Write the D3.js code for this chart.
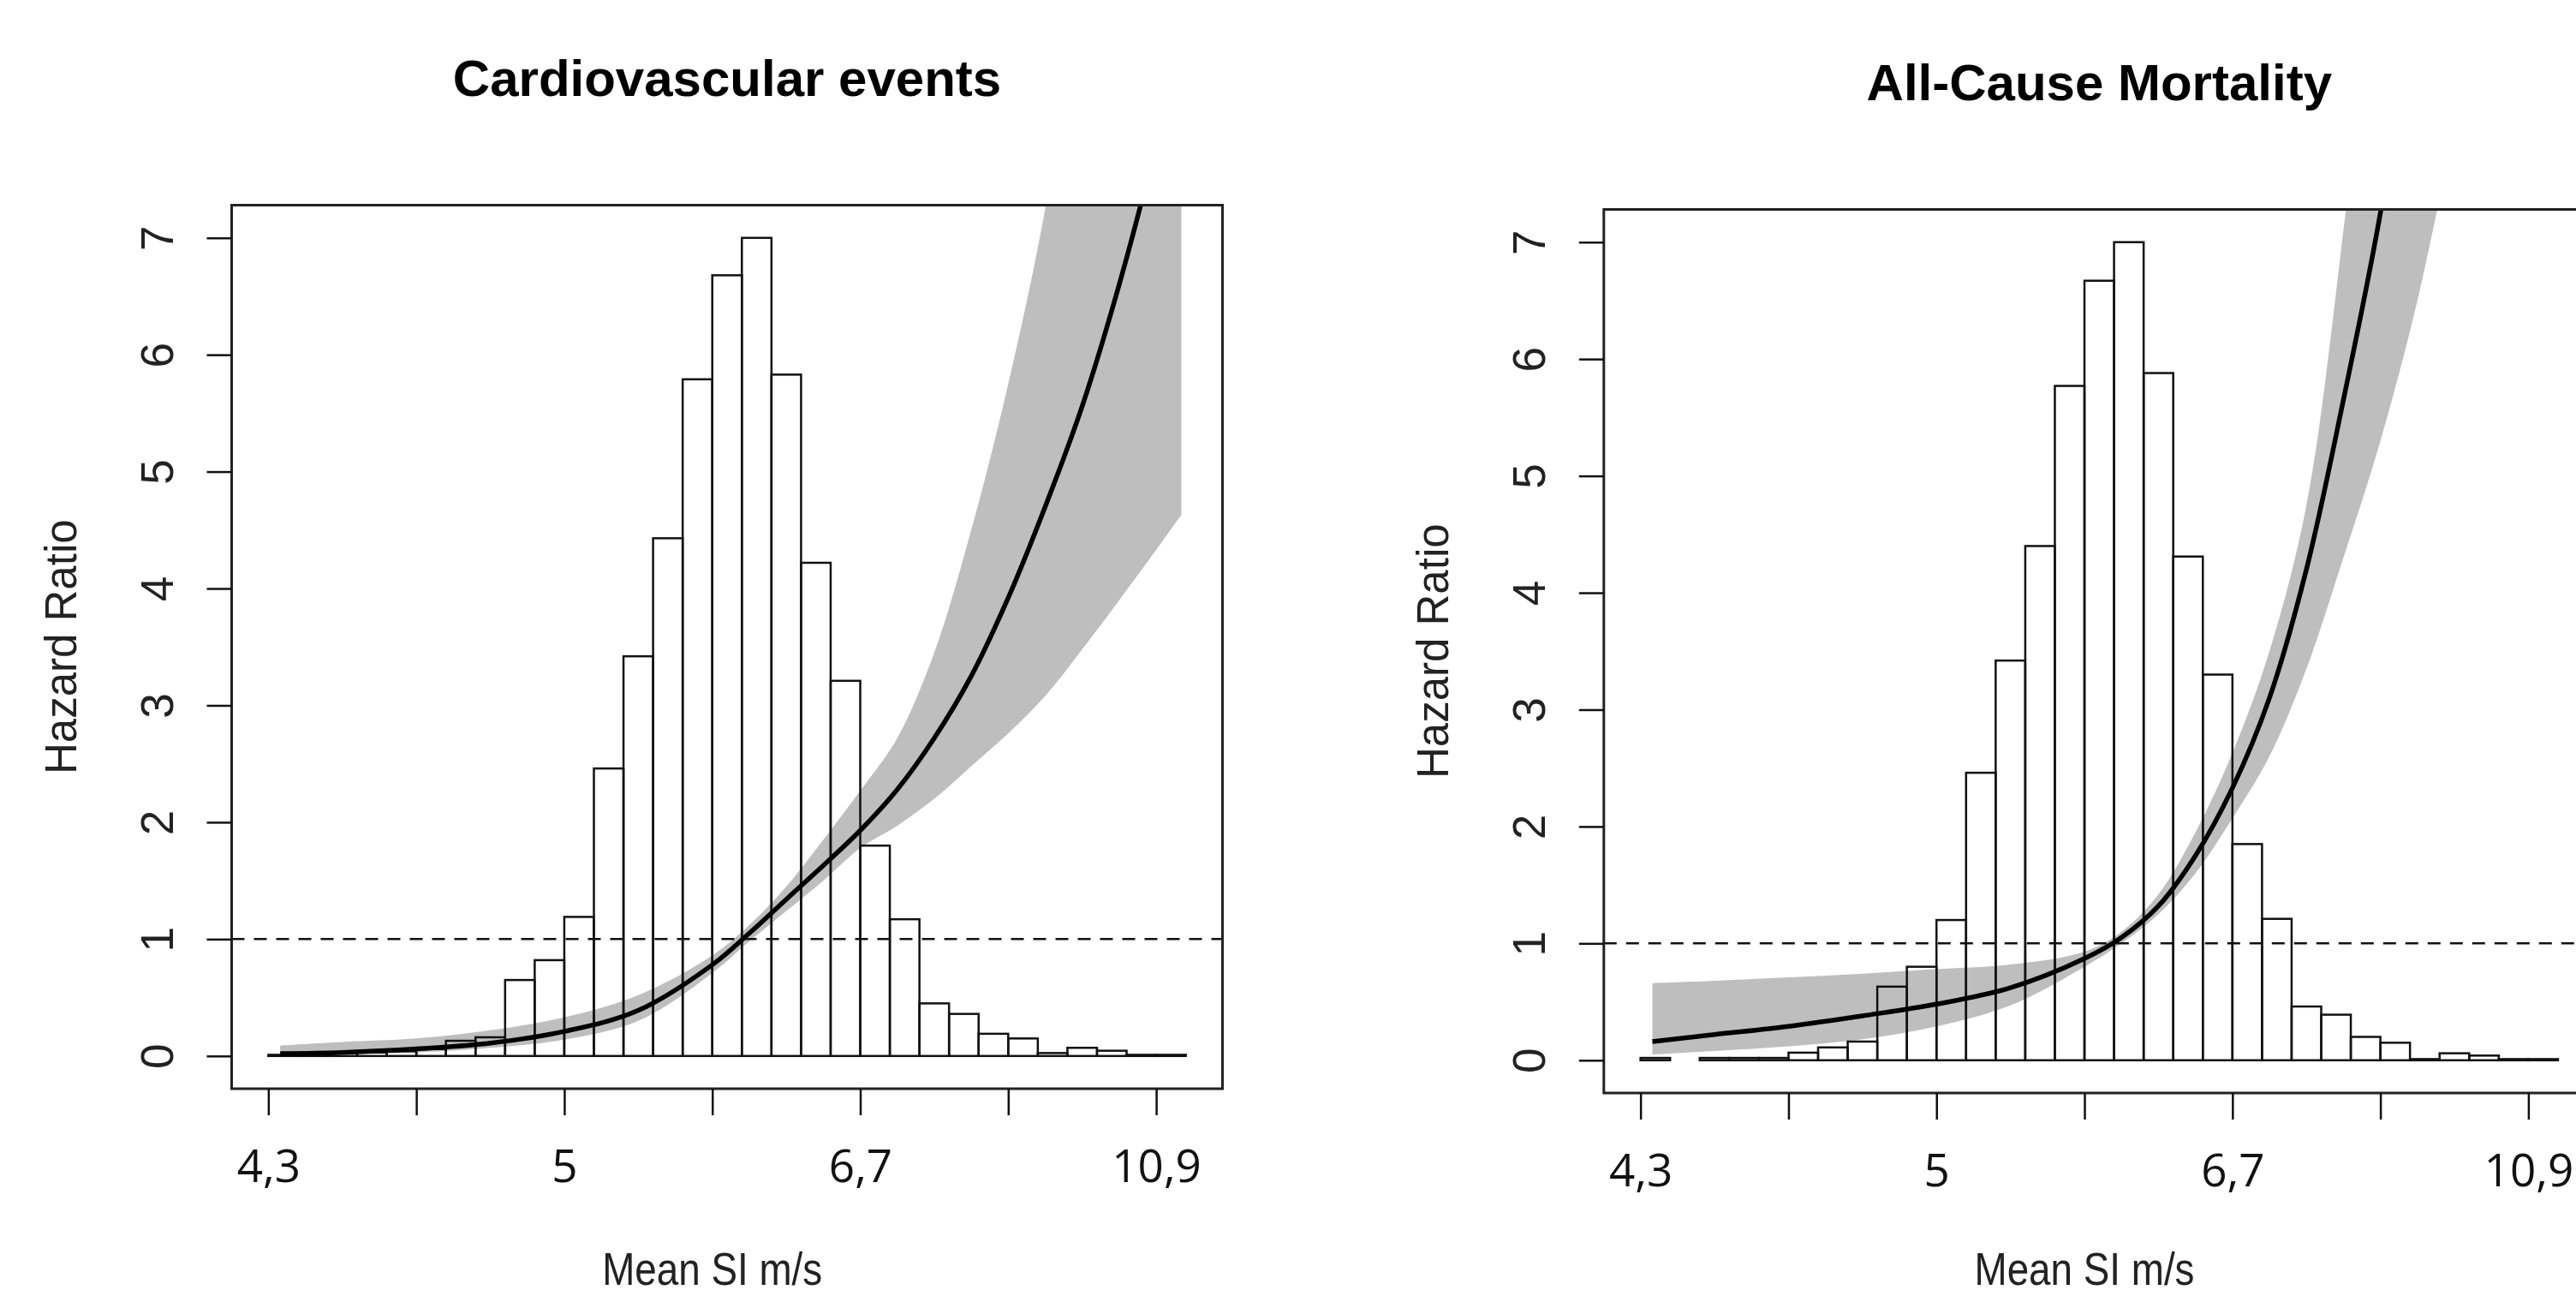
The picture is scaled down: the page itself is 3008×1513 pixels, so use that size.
<!DOCTYPE html>
<html>
<head>
<meta charset="utf-8">
<script src="https://cdn.jsdelivr.net/npm/d3@7"></script>
<style>
body { margin: 0; background: #fff; }
</style>
</head>
<body>
<script>
// x axis: equally spaced ticks, labelled every other one
var xTicks = [0, 1, 2, 3, 4, 5, 6];
var xTickLabels = ["4,3", "", "5", "", "6,7", "", "10,9"];
var yTicks = [0, 1, 2, 3, 4, 5, 6, 7];

// histogram (rescaled onto the HR axis), 31 bins of width 0.2 tick units
var binWidth = 0.2;
var cvBars = [0.01, 0.02, 0.03, 0.03, 0.04, 0.06, 0.13, 0.16, 0.65, 0.82, 1.19, 2.46, 3.42, 4.43, 5.79, 6.68,
              7.0, 5.83, 4.22, 3.21, 1.8, 1.17, 0.45, 0.36, 0.19, 0.15, 0.025, 0.07, 0.045, 0.01, 0.01];
var mortBars = [0.02, 0, 0.02, 0.02, 0.02, 0.065, 0.11, 0.16, 0.63, 0.8, 1.2, 2.46, 3.42, 4.4, 5.77, 6.67,
                7.0, 5.88, 4.31, 3.3, 1.85, 1.21, 0.46, 0.39, 0.2, 0.15, 0.01, 0.06, 0.04, 0.01, 0.01];

// hazard ratio curve with confidence band
var cvX  = [0.08, 0.5, 1.0, 1.5, 2.0, 2.5, 3.0, 3.25, 3.5, 3.75, 4.0, 4.25, 4.5, 4.75, 5.0, 5.25, 5.5, 5.75, 6.0, 6.17];
var cvHR = [0.02, 0.03, 0.06, 0.11, 0.21, 0.39, 0.78, 1.05, 1.34, 1.63, 1.93, 2.28, 2.72, 3.25, 3.92, 4.7, 5.56, 6.6, 7.8, 8.7];
var cvLo = [0.005, 0.015, 0.03, 0.07, 0.14, 0.3, 0.71, 0.98, 1.24, 1.5, 1.78, 1.97, 2.2, 2.48, 2.76, 3.08, 3.48, 3.9, 4.33, 4.63];
var cvHi = [0.09, 0.12, 0.15, 0.22, 0.33, 0.52, 0.86, 1.12, 1.45, 1.85, 2.27, 2.72, 3.45, 4.5, 5.75, 7.25, 9.3, 11.5, 14, 16];

var mortX  = [0.08, 0.5, 1.0, 1.5, 2.0, 2.5, 3.0, 3.25, 3.5, 3.75, 4.0, 4.25, 4.5, 4.75, 5.0, 5.25, 5.5];
var mortHR = [0.16, 0.22, 0.29, 0.38, 0.48, 0.62, 0.87, 1.05, 1.32, 1.75, 2.33, 3.1, 4.2, 5.65, 7.25, 9.3, 12];
var mortLo = [0.05, 0.08, 0.12, 0.18, 0.29, 0.47, 0.8, 1.0, 1.25, 1.6, 2.07, 2.6, 3.35, 4.3, 5.3, 6.5, 8.0];
var mortHi = [0.66, 0.68, 0.71, 0.74, 0.78, 0.82, 0.93, 1.1, 1.42, 1.95, 2.63, 3.5, 4.75, 7.1, 10, 13, 17];

var W = 3008, H = 1513;
var svg = d3.select("body").append("svg")
    .attr("width", W)
    .attr("height", H);
svg.append("rect").attr("width", W).attr("height", H).style("fill", "#fff");

function drawPanel(p) {
    var x = d3.scaleLinear().domain([-0.248, 6.448]).range([p.x0, p.x0 + 1157]);
    var y = d3.scaleLinear().domain([-0.28, 7.28]).range([p.y0 + 1031.5, p.y0]);
    var g = svg.append("g");

    var clipId = "clip" + p.id;
    g.append("clipPath").attr("id", clipId)
        .append("rect")
        .attr("x", x.range()[0]).attr("y", y.range()[1])
        .attr("width", x.range()[1] - x.range()[0])
        .attr("height", y.range()[0] - y.range()[1]);

    var pts = p.xs.map(function(d, i) { return {x: d, hr: p.hr[i], lo: p.lo[i], hi: p.hi[i]}; });
    var smooth = d3.curveCatmullRom.alpha(0.5);

    // confidence band
    g.append("path")
        .datum(pts)
        .attr("clip-path", "url(#" + clipId + ")")
        .attr("d", d3.area()
            .x(function(d) { return x(d.x); })
            .y0(function(d) { return y(d.lo); })
            .y1(function(d) { return y(d.hi); })
            .curve(smooth))
        .style("fill", "#bebebe");

    // histogram
    g.selectAll("rect.bar").data(p.bars).enter()
        .append("rect")
        .attr("class", "bar")
        .attr("x", function(d, i) { return x(i * binWidth); })
        .attr("width", x(binWidth) - x(0))
        .attr("y", function(d) { return y(d); })
        .attr("height", function(d) { return y(0) - y(d); })
        .style("fill", "none")
        .style("stroke", "#111")
        .style("stroke-width", 2.5);

    // reference line HR = 1
    g.append("line")
        .attr("x1", x.range()[0]).attr("x2", x.range()[1])
        .attr("y1", y(1)).attr("y2", y(1))
        .style("stroke", "#111")
        .style("stroke-width", 2.5)
        .style("stroke-dasharray", "15,11");

    // hazard ratio curve
    g.append("path")
        .datum(pts)
        .attr("clip-path", "url(#" + clipId + ")")
        .attr("d", d3.line()
            .x(function(d) { return x(d.x); })
            .y(function(d) { return y(d.hr); })
            .curve(smooth))
        .style("fill", "none")
        .style("stroke", "#000")
        .style("stroke-width", 5.5)
        .style("stroke-linejoin", "round");

    // box
    g.append("rect")
        .attr("x", x.range()[0]).attr("y", y.range()[1])
        .attr("width", x.range()[1] - x.range()[0])
        .attr("height", y.range()[0] - y.range()[1])
        .style("fill", "none")
        .style("stroke", "#222")
        .style("stroke-width", 3);

    // x axis
    var xa = g.append("g")
        .attr("transform", "translate(0," + y.range()[0] + ")")
        .call(d3.axisBottom(x).tickValues(xTicks)
            .tickFormat(function(d) { return xTickLabels[d]; })
            .tickSize(31).tickSizeOuter(0).tickPadding(0));
    xa.select(".domain").remove();
    xa.selectAll(".tick line").style("stroke", "#111").style("stroke-width", 2.5);
    xa.selectAll(".tick text")
        .attr("y", 109).attr("dy", 0)
        .style("font-family", "'Open Sans', 'Noto Sans', sans-serif")
        .style("font-size", "53px")
        .style("fill", "#111");

    // y axis
    var ya = g.append("g")
        .attr("transform", "translate(" + x.range()[0] + ",0)")
        .call(d3.axisLeft(y).tickValues(yTicks).tickSize(29).tickSizeOuter(0));
    ya.select(".domain").remove();
    ya.selectAll(".tick line").style("stroke", "#111").style("stroke-width", 2.5);
    ya.selectAll(".tick text")
        .attr("transform", "rotate(-90)")
        .attr("x", 0).attr("y", -68.5).attr("dy", 0)
        .attr("text-anchor", "middle")
        .style("font-family", "'Liberation Sans', Arial, sans-serif")
        .style("font-size", "53px")
        .style("fill", "#222");

    var cx = (x.range()[0] + x.range()[1]) / 2;
    var cy = (y.range()[0] + y.range()[1]) / 2;

    g.append("text")
        .attr("x", cx).attr("y", p.y0 - 128)
        .attr("text-anchor", "middle")
        .style("font-family", "'Liberation Sans', Arial, sans-serif")
        .style("font-weight", "bold")
        .style("font-size", "60px")
        .text(p.title);

    g.append("text")
        .attr("transform", "translate(" + (x.range()[0] - 181.5) + "," + cy + ") rotate(-90)")
        .attr("text-anchor", "middle")
        .style("font-family", "'Liberation Sans', Arial, sans-serif")
        .style("font-size", "51px")
        .style("fill", "#222")
        .text("Hazard Ratio");

    g.append("text")
        .attr("x", x(3)).attr("y", 1500)
        .attr("text-anchor", "middle")
        .attr("textLength", 257)
        .attr("lengthAdjust", "spacingAndGlyphs")
        .style("font-family", "'Liberation Sans Narrow', 'Liberation Sans', Arial, sans-serif")
        .style("font-size", "54px")
        .style("fill", "#222")
        .text("Mean SI m/s");
}

drawPanel({id: 1, x0: 270.5, y0: 239.5, title: "Cardiovascular events",
           bars: cvBars, xs: cvX, hr: cvHR, lo: cvLo, hi: cvHi});
drawPanel({id: 2, x0: 1872.8, y0: 244.5, title: "All-Cause Mortality",
           bars: mortBars, xs: mortX, hr: mortHR, lo: mortLo, hi: mortHi});
</script>
</body>
</html>
